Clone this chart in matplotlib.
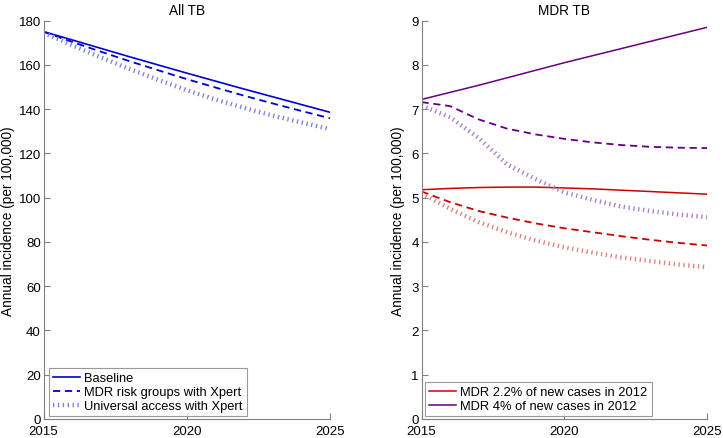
import numpy as np
import matplotlib
matplotlib.use('Agg')
import matplotlib.pyplot as plt

plt.rcParams['font.family'] = ['Liberation Sans', 'DejaVu Sans']
plt.rcParams['font.size'] = 9.5

years = [2015, 2016, 2017, 2018, 2019, 2020, 2021, 2022, 2023, 2024, 2025]

# All TB (per 100,000)
all_baseline = [175.1, 171.3, 167.5, 163.7, 160.0, 156.3, 152.7, 149.1, 145.6, 142.1, 138.6]
all_mdr_risk = [175.0, 170.4, 166.0, 161.7, 157.6, 153.6, 149.8, 146.1, 142.6, 139.2, 135.9]
all_universal = [174.6, 168.9, 163.4, 158.2, 153.3, 148.6, 144.4, 140.6, 137.1, 134.0, 131.0]

# MDR TB, 2.2% scenario
mdr22_baseline = [5.18, 5.21, 5.23, 5.24, 5.24, 5.22, 5.20, 5.17, 5.14, 5.11, 5.08]
mdr22_risk = [5.14, 4.90, 4.70, 4.55, 4.42, 4.31, 4.22, 4.13, 4.05, 3.98, 3.92]
mdr22_universal = [5.10, 4.75, 4.45, 4.22, 4.03, 3.88, 3.76, 3.65, 3.57, 3.49, 3.43]

# MDR TB, 4% scenario
mdr4_baseline = [7.22, 7.38, 7.54, 7.71, 7.88, 8.05, 8.21, 8.37, 8.53, 8.69, 8.85]
mdr4_risk = [7.16, 7.07, 6.77, 6.56, 6.43, 6.33, 6.25, 6.19, 6.15, 6.13, 6.12]
mdr4_universal = [7.08, 6.82, 6.35, 5.75, 5.42, 5.12, 4.95, 4.80, 4.70, 4.62, 4.56]

blue = '#0000d0'
red = '#cc0000'
purple = '#660080'
dash = (0, (4.0, 2.6))
dots = (0, (0.3, 0.8))

fig = plt.figure(figsize=(7.23, 4.39), dpi=100)
ax1 = fig.add_axes([0.0602, 0.0433, 0.3963, 0.9073])
ax2 = fig.add_axes([0.583, 0.0433, 0.3949, 0.9073])


def style(ax, title, label_x):
    ax.set_xlim(2015, 2025)
    ax.set_xticks([2015, 2020, 2025])
    for s in ['top', 'right']:
        ax.spines[s].set_visible(False)
    for s in ['left', 'bottom']:
        ax.spines[s].set_color('#808080')
    ax.tick_params(direction='in', length=4, color='#808080', labelsize=9.5, pad=2)
    ax.tick_params(axis='x', pad=4)
    ax.set_title(title, fontsize=9.8, pad=5)
    ax.set_ylabel('Annual incidence (per 100,000)', fontsize=9.8)
    ax.yaxis.set_label_coords(label_x, 0.5)


ax1.plot(years, all_baseline, color=blue, lw=1.2, label='Baseline')
ax1.plot(years, all_mdr_risk, color=blue, lw=1.3, ls=dash, label='MDR risk groups with Xpert')
ax1.plot(years, all_universal, color='#8080e0', lw=3.2, ls=dots,
         dash_capstyle='butt', label='Universal access with Xpert')
ax1.set_ylim(0, 180)
ax1.set_yticks(np.arange(0, 181, 20))
style(ax1, 'All TB', -0.099)
leg1 = ax1.legend(loc='lower left', bbox_to_anchor=(0.019, 0.0075), fancybox=False,
                  edgecolor='#808080', fontsize=9.3, handlelength=2.1, handletextpad=0.35,
                  labelspacing=0.15, borderpad=0.3, borderaxespad=0)
leg1.get_frame().set_linewidth(0.8)

ax2.plot(years, mdr22_baseline, color=red, lw=1.1, label='MDR 2.2% of new cases in 2012')
ax2.plot(years, mdr4_baseline, color=purple, lw=1.1, label='MDR 4% of new cases in 2012')
ax2.plot(years, mdr22_risk, color=red, lw=1.3, ls=dash)
ax2.plot(years, mdr4_risk, color=purple, lw=1.3, ls=dash)
ax2.plot(years, mdr22_universal, color='#e08080', lw=3.2, ls=dots, dash_capstyle='butt')
ax2.plot(years, mdr4_universal, color='#a880c8', lw=3.2, ls=dots, dash_capstyle='butt')
ax2.set_ylim(0, 9)
ax2.set_yticks(np.arange(0, 10, 1))
style(ax2, 'MDR TB', -0.058)
leg2 = ax2.legend(loc='lower left', bbox_to_anchor=(0.012, 0.0075), fancybox=False,
                  edgecolor='#808080', fontsize=9.3, handlelength=2.1, handletextpad=0.35,
                  labelspacing=0.15, borderpad=0.3, borderaxespad=0)
leg2.get_frame().set_linewidth(0.8)

fig.savefig('out.png', dpi=100)
